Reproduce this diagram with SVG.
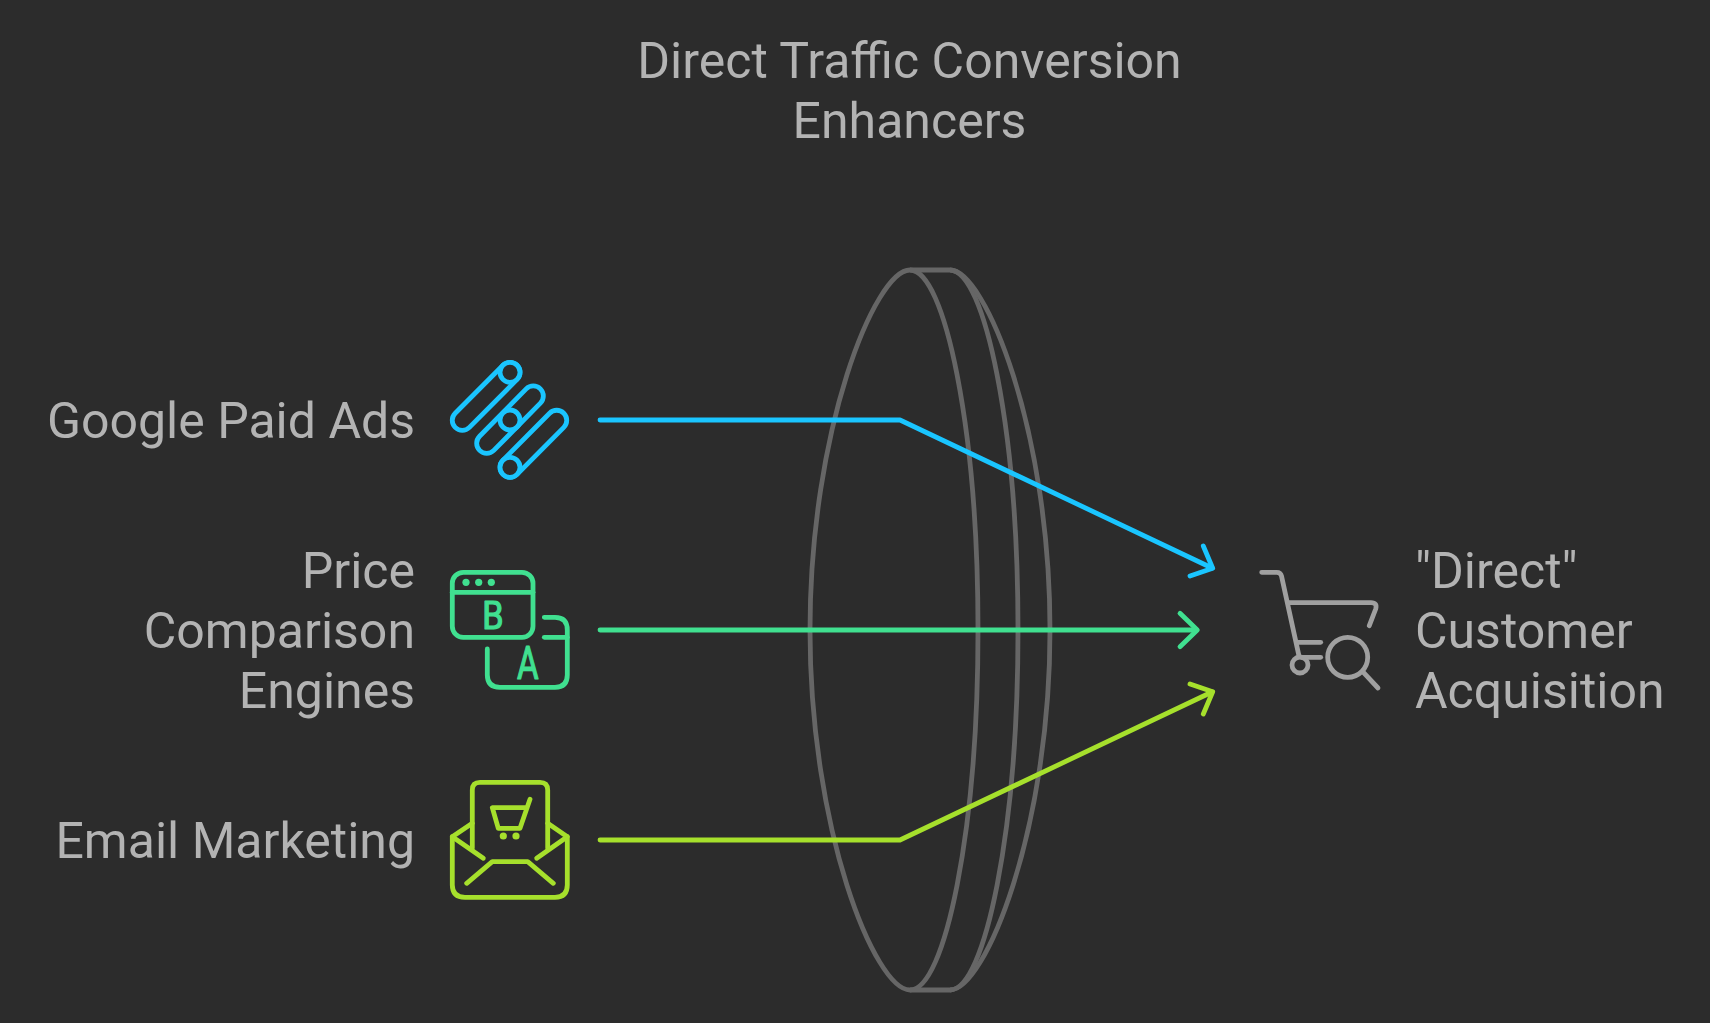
<svg xmlns="http://www.w3.org/2000/svg" width="1710" height="1023" viewBox="0 0 1710 1023">
<style>
text{font-family:Roboto,"Liberation Sans",sans-serif;font-size:50px;fill:#b3b3b3}
.r{text-anchor:end}
.i{fill:none;stroke-width:4.8;stroke-linecap:round;stroke-linejoin:round}
.c{fill:none;stroke-width:4.8;stroke-linecap:round;stroke-linejoin:round}
.lens{fill:none;stroke:#666;stroke-width:4.8;stroke-linejoin:round}
.b{stroke:#1ac5ff}.g{stroke:#40e090}.l{stroke:#a6e02c}.k{stroke:#a0a0a0}
.gl{font-family:Roboto,sans-serif;font-weight:400;fill:#40e090;stroke:#40e090;stroke-width:1.2;stroke-linejoin:round;text-anchor:middle}
.d{stroke-width:0}
</style>
<rect width="1710" height="1023" fill="#2c2c2c"/>
<g id="title"><text x="909.500" y="78" text-anchor="middle">Direct Traffic Conversion</text><text x="909.500" y="138" text-anchor="middle">Enhancers</text></g>
<g id="lens" class="lens">
<path d="M910 270C875 270 810 430 810 630C810 830 875 990 910 990C945 990 978 830 978 630C978 430 945 270 910 270Z"/>
<path d="M910 270H950C985 270 1018 430 1018 630C1018 830 985 990 950 990H910"/>
<path d="M950 270C985 270 1050 430 1050 630C1050 830 985 990 950 990"/>
</g>
<g id="connectors">
<g class="c b"><path d="M600 420H900L1212 568"/><path d="M1203.300 546 1212.700 568.300 1190 576"/></g>
<g class="c g"><path d="M600 630H1196"/><path d="M1180 613.300 1197.300 630 1180 646.700"/></g>
<g class="c l"><path d="M600 840H900L1212 692"/><path d="M1203.300 714 1212.700 691.700 1190 684"/></g>
</g>
<g id="google-paid-ads"><text class="r" x="415" y="438">Google Paid Ads</text>
<g class="i b">
<path d="M455.200 413.200 503 365.200A10 10 0 0 1 517.100 379.400L469.400 427.400A10 10 0 0 1 455.200 413.200Z"/>
<path d="M479.600 436.200 526.200 388.900A10 10 0 0 1 540.400 403.100L493.800 450.400A10 10 0 0 1 479.600 436.200Z"/>
<path d="M503 460.200 549.600 413.200A10 10 0 0 1 563.800 427.400L517.100 474.400A10 10 0 0 1 503 460.200Z"/>
<circle cx="510" cy="372.300" r="10" fill="#2c2c2c"/><circle cx="510" cy="420" r="10" fill="#2c2c2c"/><circle cx="510" cy="467.300" r="10" fill="#2c2c2c"/>
</g></g>
<g id="price-comparison"><text class="r" x="415" y="588">Price</text><text class="r" x="415" y="648">Comparison</text><text class="r" x="415" y="708">Engines</text>
<g class="i g">
<rect x="452.300" y="572.300" width="80.700" height="65" rx="11"/>
<path d="M452.300 592.300H533"/>
<path d="M544.300 617.300H555Q567.300 617.300 567.300 630V675Q567.300 687.300 555 687.300H500Q487.300 687.300 487.300 675V649"/>
<path d="M544.300 637.300H567.300"/>
<circle class="d" cx="466" cy="582.300" r="3.600" fill="#40e090"/><circle class="d" cx="478.700" cy="582.300" r="3.600" fill="#40e090"/><circle class="d" cx="491.300" cy="582.300" r="3.600" fill="#40e090"/>
</g>
<text class="gl" transform="translate(493 628.800) scale(.9 1)" style="font-size:38px">B</text>
<text class="gl" transform="translate(527.800 678.800) scale(.72 1)" style="font-size:46px">A</text>
</g>
<g id="email-marketing"><text class="r" x="415" y="858">Email Marketing</text>
<g class="i l">
<path d="M452.300 836.700V885Q452.300 897.300 465 897.300H555Q567.300 897.300 567.300 885V836.700"/>
<path d="M472.300 848.300V790Q472.300 782.300 480 782.300H540Q547.700 782.300 547.700 790V848.300"/>
<path d="M472.300 823.300 452.300 836.700 483.300 858.300"/><path d="M547.700 823.300 567.300 836.700 536.700 858.300"/>
<path d="M466.700 883.300 492.300 861.700H527.700L553.300 883.300"/>
<path d="M530 799.300 520 828.300H498.300L492.300 807.700H526.700"/>
<circle class="d" cx="503.300" cy="836" r="3.600" fill="#a6e02c"/><circle class="d" cx="516" cy="836" r="3.600" fill="#a6e02c"/>
</g></g>
<g id="direct-customer-acquisition"><text x="1415" y="588">"Direct"</text><text x="1415" y="648">Customer</text><text x="1415" y="708">Acquisition</text>
<g class="i k">
<path d="M1261.700 572.300H1276.700Q1280.700 572.300 1281.500 576L1299 656"/>
<circle cx="1300" cy="665" r="8"/>
<path d="M1288.300 602.700H1371Q1377.500 602.700 1375.700 609L1369.300 625.700"/>
<path d="M1298.300 642.300H1320.700"/><path d="M1301.700 657.300H1320.700"/>
<circle cx="1347.700" cy="657.300" r="20"/><path d="M1362.700 671.700 1378 688"/>
</g></g>
</svg>
